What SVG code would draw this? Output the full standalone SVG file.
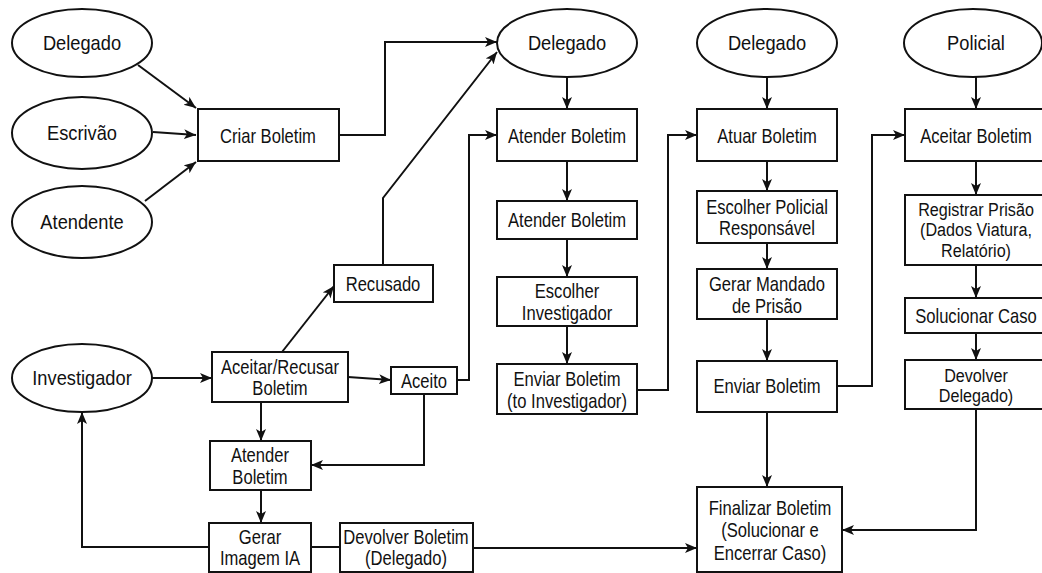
<svg xmlns="http://www.w3.org/2000/svg" width="1042" height="573" viewBox="0 0 1042 573">
<style>
.n ellipse, .n rect { fill: #fff; stroke: #111; stroke-width: 2; }
.t { font-family: "Liberation Sans", Arial, sans-serif; font-size: 20px; text-anchor: middle; fill: #111; }
.e { font-size: 21px; }
.s { font-size: 19px; }
#connectors path { fill: none; stroke: #111; stroke-width: 2; }
#connectors path.a { marker-end: url(#arr); }
</style>
<defs>
<marker id="arr" markerUnits="userSpaceOnUse" markerWidth="13" markerHeight="11" refX="12" refY="5" orient="auto">
<path d="M0,0 L12,5 L0,10 L3,5 z" fill="#111"/>
</marker>
</defs>
<rect x="0" y="0" width="1042" height="573" fill="#fff"/>

<g id="connectors">
<path class="a" d="M138,65 L196,108"/>
<path class="a" d="M153,132 L196,135"/>
<path class="a" d="M145,201 L196,162"/>
<path class="a" d="M339,135 H385 V42 H497"/>
<path class="a" d="M383,265 V198 L497,52"/>
<path class="a" d="M567,77 V109"/>
<path class="a" d="M567,161 V201"/>
<path class="a" d="M567,239 V277"/>
<path class="a" d="M567,326 V364"/>
<path class="a" d="M637,390 H668 V135 H697"/>
<path class="a" d="M767,77 V109"/>
<path class="a" d="M767,161 V191"/>
<path class="a" d="M767,243 V269"/>
<path class="a" d="M767,319 V361"/>
<path class="a" d="M767,412 V487"/>
<path class="a" d="M837,386 H872 V135 H905"/>
<path class="a" d="M976,77 V109"/>
<path class="a" d="M976,161 V195"/>
<path class="a" d="M976,265 V298"/>
<path class="a" d="M976,333 V360"/>
<path class="a" d="M976,409 V530 H842"/>
<path class="a" d="M152,378 H212"/>
<path class="a" d="M348,377 L391,380"/>
<path class="a" d="M282,352 L334,286"/>
<path class="a" d="M261,402 V441"/>
<path class="a" d="M457,380 H469 V135 H497"/>
<path class="a" d="M424,394 V465 H311"/>
<path class="a" d="M261,490 V523"/>
<path class="a" d="M209,547 H82 V412"/>
<path d="M311,547 H340"/>
<path class="a" d="M473,548 H697"/>
</g>

<g id="e-delegado1" class="n"><ellipse cx="82" cy="43" rx="70" ry="34"/><text class="t e" transform="translate(82 50) scale(0.87 1)">Delegado</text></g>
<g id="e-escrivao" class="n"><ellipse cx="82" cy="133" rx="70" ry="36"/><text class="t e" transform="translate(82 140) scale(0.87 1)">Escrivão</text></g>
<g id="e-atendente" class="n"><ellipse cx="82" cy="222" rx="70" ry="36"/><text class="t e" transform="translate(82 229) scale(0.87 1)">Atendente</text></g>
<g id="e-investigador" class="n"><ellipse cx="82" cy="378" rx="70" ry="34"/><text class="t e" transform="translate(82 385) scale(0.87 1)">Investigador</text></g>
<g id="e-delegado2" class="n"><ellipse cx="567" cy="43" rx="70" ry="34"/><text class="t e" transform="translate(567 50) scale(0.87 1)">Delegado</text></g>
<g id="e-delegado3" class="n"><ellipse cx="767" cy="43" rx="70" ry="34"/><text class="t e" transform="translate(767 50) scale(0.87 1)">Delegado</text></g>
<g id="e-policial" class="n"><ellipse cx="973" cy="43" rx="69" ry="34"/><text class="t e" transform="translate(976 50) scale(0.87 1)">Policial</text></g>

<g id="criar" class="n"><rect x="198" y="109" width="141" height="52"/><text class="t" transform="translate(268 143) scale(0.83 1)">Criar Boletim</text></g>
<g id="recusado" class="n"><rect x="334" y="265" width="99" height="37"/><text class="t" transform="translate(383 291) scale(0.83 1)">Recusado</text></g>
<g id="aceitar-recusar" class="n"><rect x="212" y="352" width="136" height="50"/><text class="t" transform="translate(280 374) scale(0.83 1)"><tspan x="0">Aceitar/Recusar</tspan><tspan x="0" dy="21">Boletim</tspan></text></g>
<g id="aceito" class="n"><rect x="391" y="367" width="66" height="27"/><text class="t" transform="translate(424 388) scale(0.83 1)">Aceito</text></g>
<g id="atender-left" class="n"><rect x="210" y="441" width="101" height="49"/><text class="t" transform="translate(260 462) scale(0.83 1)"><tspan x="0">Atender</tspan><tspan x="0" dy="22">Boletim</tspan></text></g>
<g id="gerar-imagem" class="n"><rect x="209" y="523" width="102" height="49"/><text class="t" transform="translate(260 544) scale(0.83 1)"><tspan x="0">Gerar</tspan><tspan x="0" dy="21">Imagem IA</tspan></text></g>
<g id="devolver-boletim" class="n"><rect x="340" y="523" width="133" height="49"/><text class="t" transform="translate(406 544) scale(0.83 1)"><tspan x="0">Devolver Boletim</tspan><tspan x="0" dy="21">(Delegado)</tspan></text></g>

<g id="atender1" class="n"><rect x="497" y="109" width="140" height="52"/><text class="t" transform="translate(567 143) scale(0.83 1)">Atender Boletim</text></g>
<g id="atender2" class="n"><rect x="497" y="201" width="140" height="38"/><text class="t" transform="translate(567 227) scale(0.83 1)">Atender Boletim</text></g>
<g id="escolher-inv" class="n"><rect x="497" y="277" width="140" height="49"/><text class="t" transform="translate(567 298) scale(0.83 1)"><tspan x="0">Escolher</tspan><tspan x="0" dy="22">Investigador</tspan></text></g>
<g id="enviar-inv" class="n"><rect x="497" y="364" width="140" height="50"/><text class="t" transform="translate(567 386) scale(0.83 1)"><tspan x="0">Enviar Boletim</tspan><tspan x="0" dy="22">(to Investigador)</tspan></text></g>

<g id="atuar" class="n"><rect x="697" y="109" width="140" height="52"/><text class="t" transform="translate(767 143) scale(0.83 1)">Atuar Boletim</text></g>
<g id="escolher-pol" class="n"><rect x="697" y="191" width="140" height="52"/><text class="t" transform="translate(767 214) scale(0.83 1)"><tspan x="0">Escolher Policial</tspan><tspan x="0" dy="21">Responsável</tspan></text></g>
<g id="mandado" class="n"><rect x="697" y="269" width="140" height="50"/><text class="t" transform="translate(767 291) scale(0.83 1)"><tspan x="0">Gerar Mandado</tspan><tspan x="0" dy="22">de Prisão</tspan></text></g>
<g id="enviar" class="n"><rect x="697" y="361" width="140" height="51"/><text class="t" transform="translate(767 393) scale(0.83 1)">Enviar Boletim</text></g>
<g id="finalizar" class="n"><rect x="697" y="487" width="145" height="85"/><text class="t" transform="translate(770 515) scale(0.83 1)"><tspan x="0">Finalizar Boletim</tspan><tspan x="0" dy="22.5">(Solucionar e</tspan><tspan x="0" dy="22.5">Encerrar Caso)</tspan></text></g>

<g id="aceitar" class="n"><rect x="905" y="109" width="142" height="52"/><text class="t" transform="translate(976 143) scale(0.83 1)">Aceitar Boletim</text></g>
<g id="registrar" class="n"><rect x="905" y="195" width="142" height="70"/><text class="t s" transform="translate(976 216) scale(0.85 1)"><tspan x="0">Registrar Prisão</tspan><tspan x="0" dy="20.5">(Dados Viatura,</tspan><tspan x="0" dy="20.5">Relatório)</tspan></text></g>
<g id="solucionar" class="n"><rect x="905" y="298" width="142" height="35"/><text class="t" transform="translate(976 323) scale(0.83 1)">Solucionar Caso</text></g>
<g id="devolver-del" class="n"><rect x="905" y="360" width="142" height="49"/><text class="t s" transform="translate(976 382) scale(0.85 1)"><tspan x="0">Devolver</tspan><tspan x="0" dy="20.5">Delegado)</tspan></text></g>
</svg>
